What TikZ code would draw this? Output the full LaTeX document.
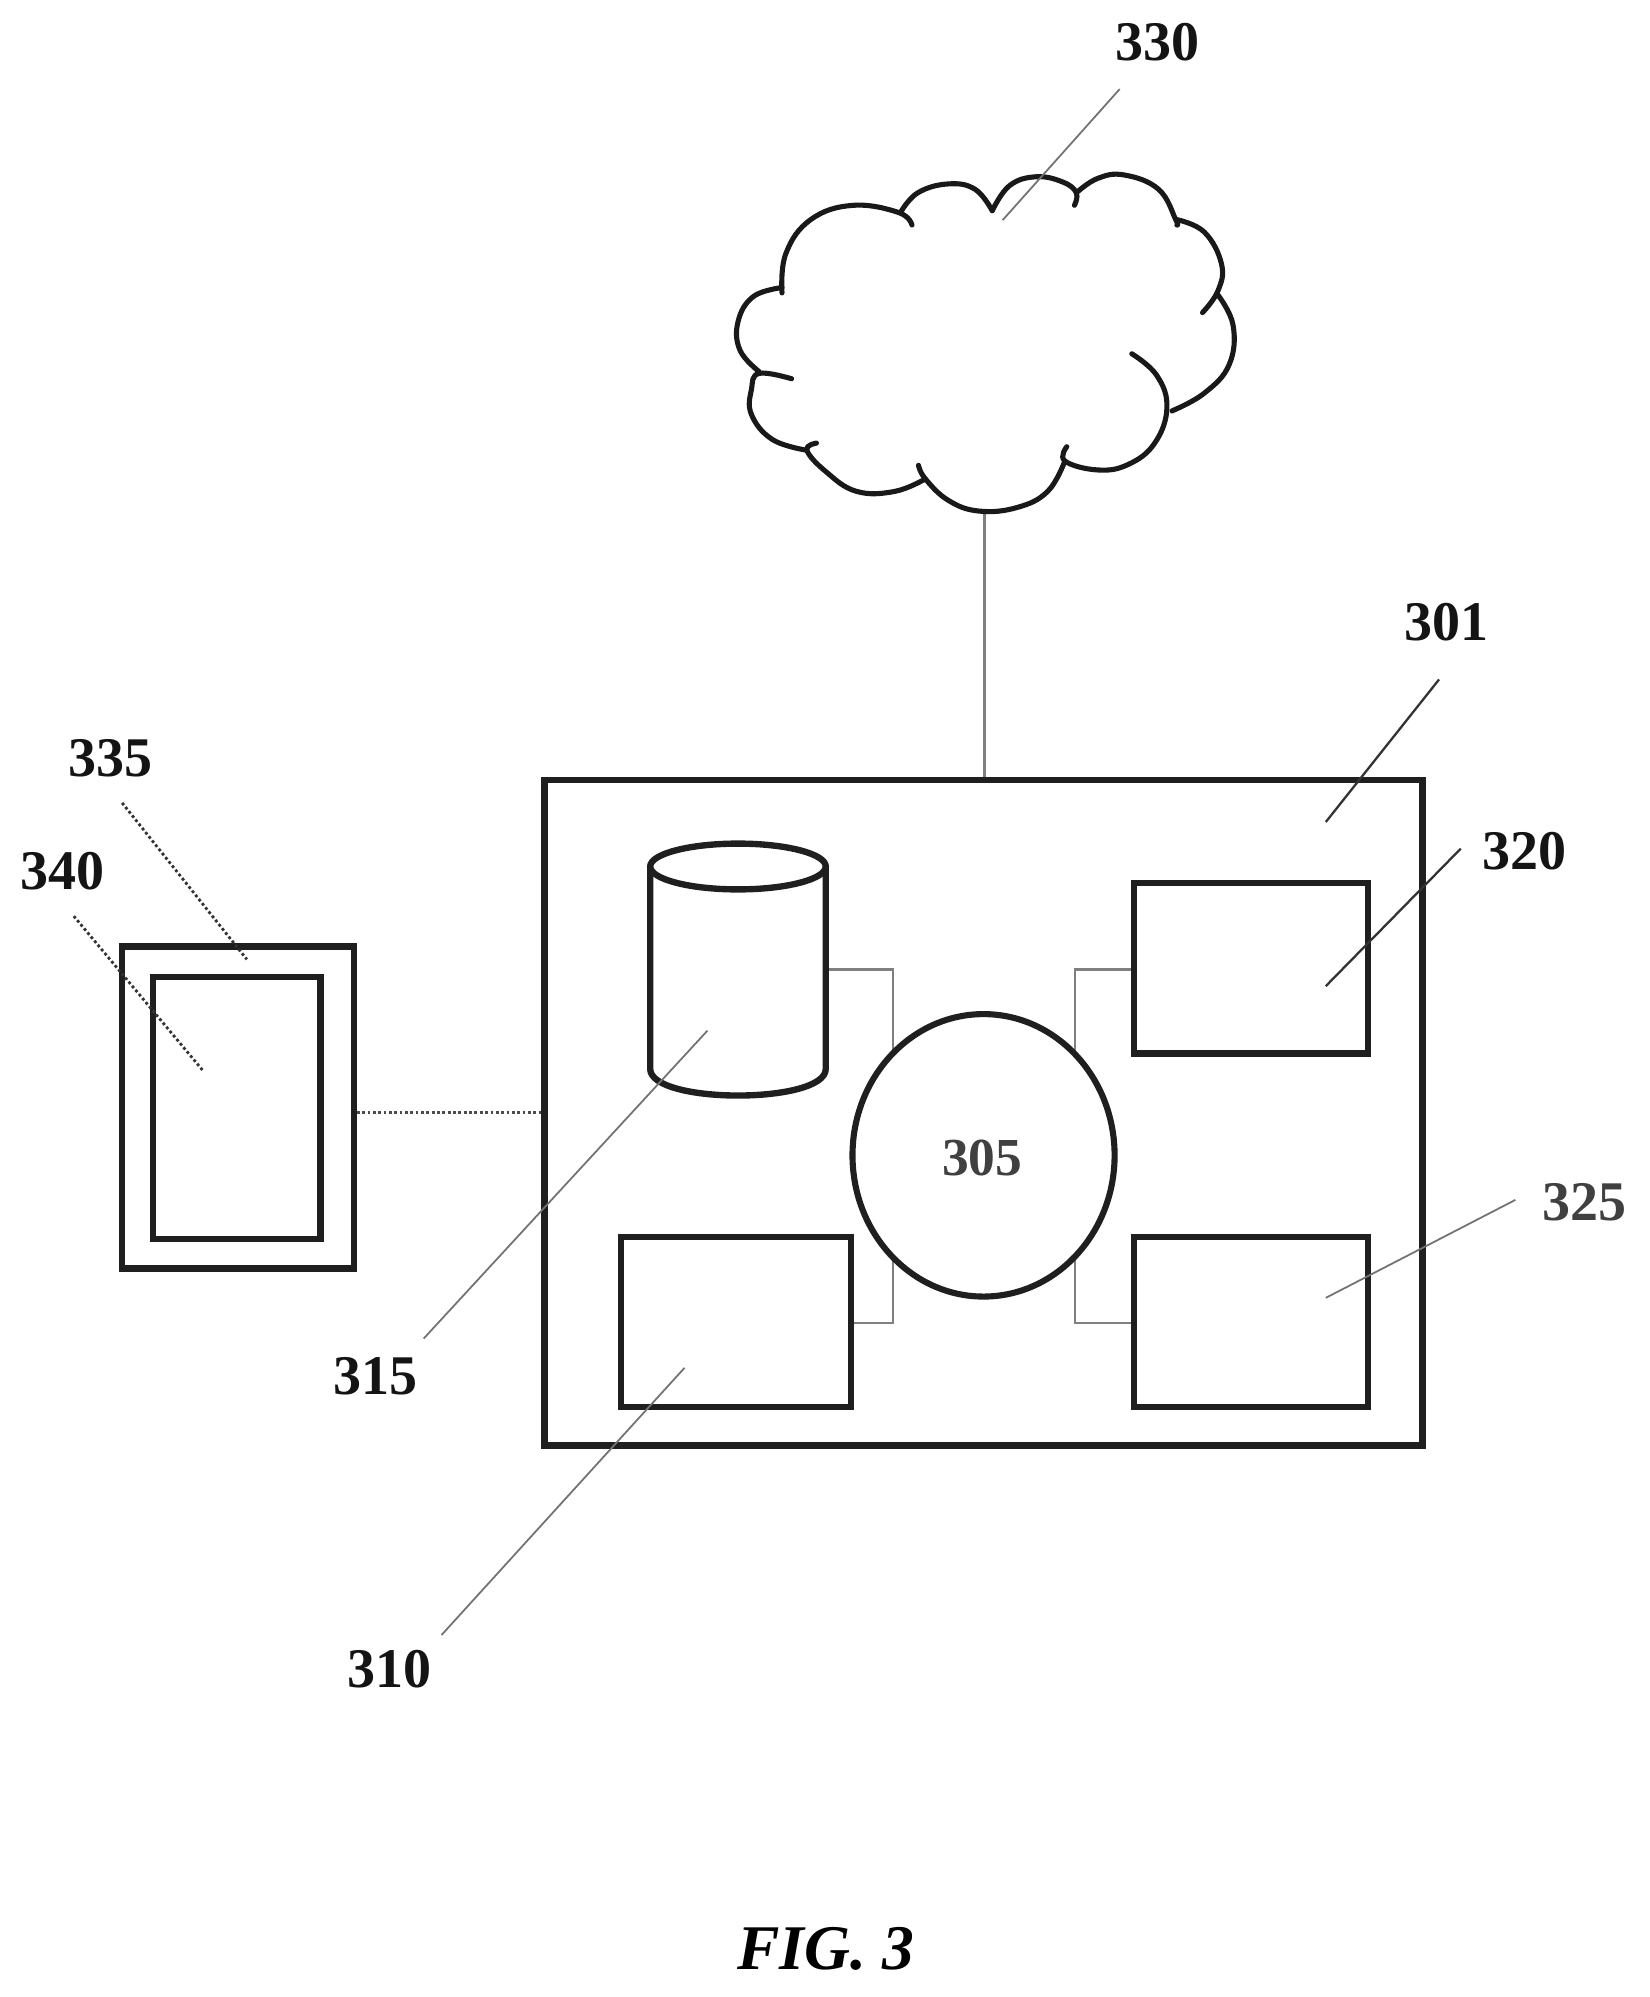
\documentclass[tikz,border=0pt]{standalone}
\usepackage{fontspec}
\setmainfont{Liberation Serif}
\usetikzlibrary{shapes.geometric,calc}
\pgfdeclarelayer{bg}
\pgfsetlayers{bg,main}
\tikzset{
  box/.style={draw=black!88,line width=2.5pt,rectangle,inner sep=0pt,fill=none},
  oval/.style={draw=black!88,line width=2.4pt,ellipse,inner sep=0pt,fill=white},
  link/.style={draw=black!50,line width=.9pt},
  linkdark/.style={draw=black!70,line width=1.1pt,densely dotted},
  lead/.style={draw=black!55,line width=.7pt},
  leaddark/.style={draw=black!80,line width=.9pt},
  leaddot/.style={draw=black!80,line width=1.1pt,densely dotted},
  lab/.style={font=\fontsize{22}{24}\selectfont\bfseries,inner sep=0pt,text=black!92},
  labr/.style={font=\fontsize{22}{24}\selectfont\bfseries,inner sep=0pt,text=black!75},
  cloudline/.style={draw=black!90,line width=2pt,line cap=round,line join=round},
}
\begin{document}
\begin{tikzpicture}[x=.5pt,y=-.5pt]
\useasboundingbox (0,0) rectangle (1296,1569.5);
% main parts
\node[box,minimum width=345pt,minimum height=261.5pt] (main) at (773,874.5) {};
\node[box,minimum width=90.5pt,minimum height=67pt] (b310) at (578.5,1039) {};
\node[box,minimum width=92pt,minimum height=67pt] (b320) at (983,761) {};
\node[box,minimum width=92pt,minimum height=67pt] (b325) at (983,1039) {};
\node[oval,minimum width=103pt,minimum height=111pt] (proc) at (773,908) {};
\node[labr,font=\fontsize{21}{24}\selectfont\bfseries] (t305) at (772,910) {305};
\node[box,minimum width=91pt,minimum height=126.5pt] (dev) at (187,870.5) {};
\node[box,minimum width=66pt,minimum height=103pt] (scr) at (186,871) {};
% cylinder
\draw[box] (511,681) -- (511,840) .. controls (511,868) and (649,868) .. (649,840) -- (649,681);
\draw[box] (580,681) ellipse (69 and 18);
\coordinate (cylr) at (649,762);
% cloud
\begin{scope}[shift={(535,-3)},x=.1502pt,y=-.1405pt]
\coordinate (cloudb) at (795,1445);
\draw[cloudline] plot[smooth,tension=.7] coordinates {(265,830) (275,720) (340,625) (450,585) (570,605) (605,640)};
\draw[cloudline] plot[smooth,tension=.7] coordinates {(575,605) (620,550) (700,525) (770,540) (815,600)};
\draw[cloudline] plot[smooth,tension=.7] coordinates {(815,600) (860,530) (930,505) (1000,520) (1035,550) (1030,585)};
\draw[cloudline] plot[smooth,tension=.7] coordinates {(1035,550) (1090,510) (1160,500) (1250,540) (1295,625) (1298,640)};
\draw[cloudline] plot[smooth,tension=.7] coordinates {(1298,625) (1370,660) (1415,750) (1405,825) (1365,885)};
\draw[cloudline] plot[smooth,tension=.7] coordinates {(1405,835) (1445,920) (1435,1030) (1370,1110) (1285,1160)};
\draw[cloudline] plot[smooth,tension=.7] coordinates {(1180,1000) (1245,1060) (1272,1150) (1240,1250) (1170,1310) (1090,1325) (1005,1300) (1010,1260)};
\draw[cloudline] plot[smooth,tension=.7] coordinates {(1005,1300) (960,1385) (880,1430) (780,1440) (700,1410) (640,1350) (622,1312)};
\draw[cloudline] plot[smooth,tension=.7] coordinates {(640,1350) (560,1385) (460,1385) (380,1330) (330,1270) (355,1250)};
\draw[cloudline] plot[smooth,tension=.7] coordinates {(330,1270) (240,1240) (185,1170) (185,1100) (205,1055) (290,1070)};
\draw[cloudline] plot[smooth,tension=.7] coordinates {(205,1050) (155,990) (150,910) (190,840) (265,815)};
\end{scope}
% connectors
\begin{pgfonlayer}{bg}
\draw[link] (cloudb) -- (cloudb |- main.north);
\draw[linkdark] (dev.east |- main.center) -- (main.west);
\coordinate (e1) at (702,762);
\coordinate (e2) at (702,1040);
\coordinate (e3) at (845,762);
\coordinate (e4) at (845,1040);
\draw[link] (cylr) -- (e1) -- (e1 |- proc.center);
\draw[link] (b310.east |- e2) -- (e2) -- (e2 |- proc.center);
\draw[link] (b320.west |- e3) -- (e3) -- (e3 |- proc.center);
\draw[link] (b325.west |- e4) -- (e4) -- (e4 |- proc.center);
\end{pgfonlayer}
% labels
\node[lab] (t330) at (910,33) {330};
\node[lab] (t301) at (1137,489) {301};
\node[lab] (t320) at (1198,669) {320};
\node[labr] (t325) at (1245,945) {325};
\node[lab] (t335) at (87,596) {335};
\node[lab] (t340) at (49,685) {340};
\node[lab] (t315) at (295,1082) {315};
\node[lab] (t310) at (306,1312) {310};
\node[font=\fontsize{25}{30}\selectfont\bfseries\itshape,inner sep=0pt] (fig) at (649,1532) {FIG. 3};
% leader ends
\coordinate (l330a) at (880,70); \coordinate (l330b) at (788,173);
\coordinate (l301a) at (1131,534); \coordinate (l301b) at (1042,646);
\coordinate (l320a) at (1148,667); \coordinate (l320b) at (1042,775);
\coordinate (l325a) at (1191,943); \coordinate (l325b) at (1042,1020);
\coordinate (l335a) at (96,631); \coordinate (l335b) at (194,754);
\coordinate (l340a) at (58,720); \coordinate (l340b) at (160,842);
\coordinate (l315a) at (333,1052); \coordinate (l315b) at (556,810);
\coordinate (l310a) at (347,1285); \coordinate (l310b) at (538,1075);
\draw[lead] (l330a) -- (l330b);
\draw[leaddark] (l301a) -- (l301b);
\draw[leaddark] (l320a) -- (l320b);
\draw[lead] (l325a) -- (l325b);
\draw[leaddot] (l335a) -- (l335b);
\draw[leaddot] (l340a) -- (l340b);
\draw[lead] (l315a) -- (l315b);
\draw[lead] (l310a) -- (l310b);
\end{tikzpicture}
\end{document}
